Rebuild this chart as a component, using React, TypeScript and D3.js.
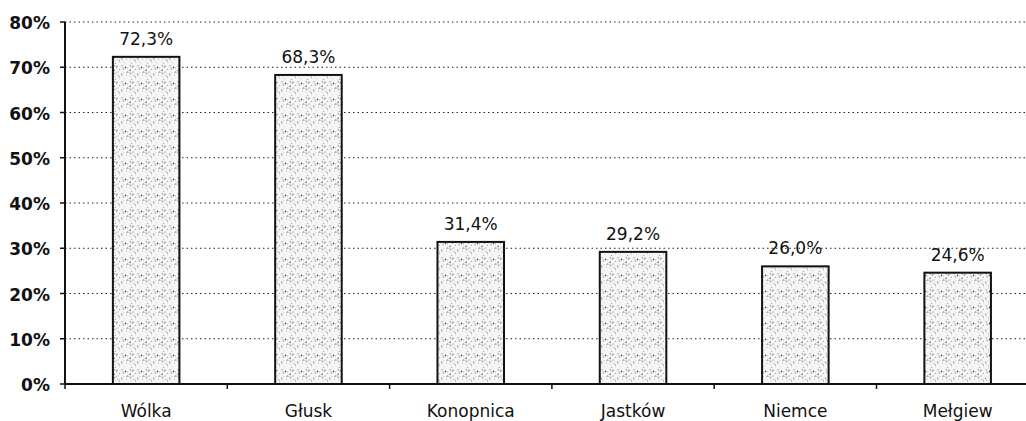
import React from 'react';
import * as d3 from 'd3';

const categories = ['Wólka', 'Głusk', 'Konopnica', 'Jastków', 'Niemce', 'Mełgiew'];
const values = [72.3, 68.3, 31.4, 29.2, 26.0, 24.6];
const yTicks = [0, 10, 20, 30, 40, 50, 60, 70, 80];

const width = 1026, height = 421;
const left = 65, top = 22, bottom = 384;
const band = 162.3;

const App = () => {
    const x = d3.scaleBand<string>()
        .domain(categories)
        .range([left, left + band * categories.length])
        .paddingInner(0.59)
        .paddingOuter(0.295);
    const y = d3.scaleLinear().domain([0, 80]).range([bottom, top]);
    const fmt = (v: number) => d3.format('.1f')(v).replace('.', ',') + '%';

    // stipple texture for the bars
    const rnd = d3.randomLcg(0.42);
    const dots = d3.range(40).map(() => [rnd() * 16, rnd() * 16, 0.3 + rnd() * 0.45]);

    const font = '"DejaVu Sans", Arial, sans-serif';

    return (
        <svg width={width} height={height} style={{ position: 'absolute', left: 0, top: 0, background: '#fff' }}>
            <defs>
                <pattern id="stip" width={16} height={16} patternUnits="userSpaceOnUse">
                    <rect width={16} height={16} fill="#f6f6f6" />
                    {dots.map((d, i) => (
                        <circle key={i} cx={d[0]} cy={d[1]} r={d[2]} fill={i % 3 === 0 ? '#444' : '#999'} />
                    ))}
                </pattern>
            </defs>

            {/* grid */}
            {yTicks.filter(t => t > 0).map(t => (
                <line key={t} x1={left} x2={width} y1={y(t)} y2={y(t)}
                    stroke="#222" strokeWidth={1} strokeDasharray="1.5,3" />
            ))}

            {/* bars */}
            {categories.map((c, i) => (
                <g key={c}>
                    <rect x={x(c)} y={y(values[i])} width={x.bandwidth()} height={bottom - y(values[i])}
                        fill="url(#stip)" stroke="#111" strokeWidth={2} />
                    <text x={x(c)! + x.bandwidth() / 2} y={y(values[i]) - 12} textAnchor="middle"
                        fontFamily={font} fontSize={17} fill="#111">{fmt(values[i])}</text>
                    <text x={x(c)! + x.bandwidth() / 2} y={417} textAnchor="middle"
                        fontFamily={font} fontSize={17} fill="#111">{c}</text>
                </g>
            ))}

            {/* y axis */}
            <line x1={left} x2={left} y1={top} y2={bottom} stroke="#111" strokeWidth={2} />
            {yTicks.map(t => (
                <g key={t}>
                    <line x1={left - 5} x2={left} y1={y(t)} y2={y(t)} stroke="#111" strokeWidth={1.5} />
                    <text x={50} y={y(t) + 7} textAnchor="end" fontFamily={font} fontSize={17}
                        fontWeight="bold" fill="#111">{t}%</text>
                </g>
            ))}

            {/* x axis */}
            <line x1={left} x2={width} y1={bottom} y2={bottom} stroke="#111" strokeWidth={2} />
            {d3.range(categories.length + 1).map(i => (
                <line key={i} x1={left + band * i} x2={left + band * i} y1={bottom} y2={bottom + 5}
                    stroke="#111" strokeWidth={1.5} />
            ))}
        </svg>
    );
};

export default App;
